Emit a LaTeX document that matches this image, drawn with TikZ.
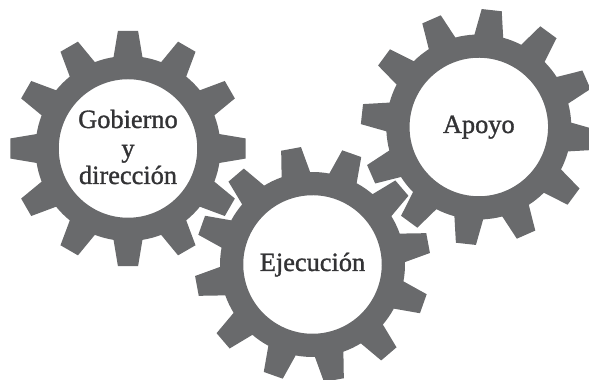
\documentclass[tikz,border=0pt]{standalone}
\usepackage{fontspec}
\setmainfont[FakeBold=1.2]{Liberation Serif}
\usepackage{tikz}
\definecolor{gearcolor}{HTML}{696A6C}
\definecolor{labelcolor}{HTML}{333335}
\tikzset{
	gear/.style={fill=gearcolor, even odd rule},
	label/.style={text=labelcolor, anchor=base, font=\fontsize{15}{16}\selectfont},
}
\def\gear(#1)(#2){\begin{scope}[shift={(#1)}, rotate=#2]
	\fill[gear] (-9:1.85) foreach \t in {0,30,...,330} {
		-- ({\t-9}:1.85) -- ({\t-4.9}:2.36) -- ({\t+4.9}:2.36) -- ({\t+9}:1.85) arc ({\t+9}:{\t+21}:1.85)
	} -- cycle (0, 0) circle (1.385);
\end{scope}}

\begin{document}
\begin{tikzpicture}
	%%%%% START %%%%%
	
	\useasboundingbox (0, 0) rectangle (11.78, 7.6);
	\clip (0, 0) rectangle (11.78, 7.6);
	
	\gear(2.56, 4.63)(0);
	\gear(6.25, 2.31)(10.5);
	\gear(9.576, 5.06)(-6.3);
	
	\node[label] (gobierno) at (2.56, 5.04) {Gobierno};
	\node[label] (y) at (2.56, 4.46) {y};
	\node[label] (direccion) at (2.56, 3.92) {dirección};
	\node[label] (ejecucion) at (6.25, 2.18) {Ejecución};
	\node[label] (apoyo) at (9.576, 4.94) {Apoyo};
	
	%%%%% END %%%%%
\end{tikzpicture}
\end{document}
